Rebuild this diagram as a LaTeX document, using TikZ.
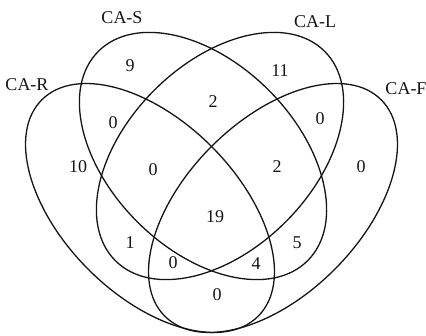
\documentclass[tikz,border=0pt]{standalone}
\usepackage{fontspec}
\setmainfont{Liberation Serif}
\definecolor{ink}{RGB}{20,20,20}
\tikzset{
  set/.style={draw=ink,line width=1.3pt},
  setname/.style={font=\fontsize{18}{20}\selectfont,text=ink,inner sep=0pt},
  count/.style={font=\fontsize{18}{20}\selectfont,text=ink,inner sep=0pt},
}

\begin{document}
\begin{tikzpicture}[x=10pt,y=10pt]
  \useasboundingbox (0,0) rectangle (42.6,33.5);
  % centres of the four sets
  \coordinate (S) at (20.3,17.9);
  \coordinate (L) at (22.0,17.9);
  \coordinate (R) at (15.0,12.7);
  \coordinate (F) at (27.3,12.7);
  \draw[set,rotate around={-45:(S)}] (S) ellipse [x radius=14.8,y radius=9.3];
  \draw[set,rotate around={45:(L)}] (L) ellipse [x radius=14.8,y radius=9.3];
  \draw[set,rotate around={-45:(R)}] (R) ellipse [x radius=15.3,y radius=8.7];
  \draw[set,rotate around={45:(F)}] (F) ellipse [x radius=15.3,y radius=8.7];
  % set names
  \node[setname] (nS) at (12.2,31.7) {CA-S};
  \node[setname] (nL) at (31.5,31.3) {CA-L};
  \node[setname] (nR) at (2.7,25.0) {CA-R};
  \node[setname] (nF) at (40.6,24.6) {CA-F};
  % counts in the regions
  \foreach \x/\y/\n [count=\i] in {13.0/26.9/9, 28.0/26.4/11, 11.3/21.2/0,
      21.3/23.3/2, 32.0/21.6/0, 7.8/16.8/10, 15.3/16.5/0, 27.7/16.8/2,
      36.1/16.8/0, 21.5/11.8/19, 13.0/9.2/1, 17.3/7.2/0, 25.6/7.1/4,
      29.7/9.2/5, 21.7/4.0/0}
    \node[count] (c\i) at (\x,\y) {\n};
\end{tikzpicture}
\end{document}
